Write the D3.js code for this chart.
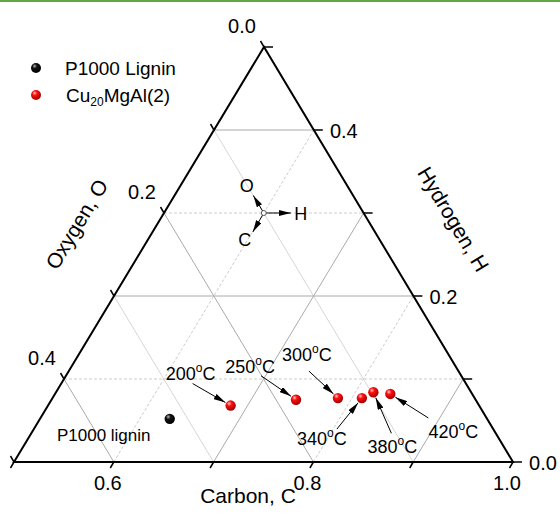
<!DOCTYPE html>
<html>
<head>
<meta charset="utf-8">
<script src="https://cdn.jsdelivr.net/npm/d3@7"></script>
<style>
  body { margin: 0; background: #fff; }
  svg { display: block; font-family: "Liberation Sans", Arial, sans-serif; }
</style>
</head>
<body>
<svg id="chart" width="560" height="515"></svg>
<script>
// data: composition (mass fraction) of carbon, hydrogen, oxygen
var sampleNames = ["P1000 lignin", "200", "250", "300", "340", "380", "420"];
var sampleGroup = ["lignin", "cat", "cat", "cat", "cat", "cat", "cat"];
var carbon   = [0.630, 0.683, 0.745, 0.786, 0.810, 0.818, 0.836];
var hydrogen = [0.052, 0.068, 0.075, 0.077, 0.077, 0.084, 0.082];
var oxygen   = [0.318, 0.249, 0.180, 0.137, 0.113, 0.098, 0.082];

var gridSteps = [0.1, 0.2, 0.3, 0.4];
var cTickLabels = [0.6, 0.8, 1.0];
var hTickLabels = [0.0, 0.2, 0.4];
var oTickLabels = [0.0, 0.2, 0.4];

// annotation layout (label centre and arrow start, relative to the point)
var labelOffsets = [[-66, 16, null, null], [-40, -32, -38, -22], [-46, -33, -35, -24], [-31, -43, -29, -27],
                    [-40, 41, -25, 31], [19, 55, 18, 41], [63, 38, 38, 24]];

var svg = d3.select("#chart");

// green rule on top
svg.append("rect").attr("x", 0).attr("y", 0).attr("width", 560).attr("height", 2).attr("fill", "#62a744");

// ternary scales: C on the bottom, H vertical
var cx = d3.scaleLinear().domain([0.5, 1]).range([14, 513]);
var hy = d3.scaleLinear().domain([0, 0.5]).range([462, 47]);
var hx = d3.scaleLinear().domain([0, 0.5]).range([0, 250]);

function project(c, h) {
	return [cx(c) + hx(h), hy(h)];
}

var defs = svg.append("defs");
defs.append("marker")
	.attr("id", "arrow")
	.attr("markerUnits", "userSpaceOnUse")
	.attr("viewBox", "0 0 12 6")
	.attr("refX", 12).attr("refY", 3)
	.attr("markerWidth", 12).attr("markerHeight", 6)
	.attr("orient", "auto")
	.append("path").attr("d", "M0,0 L12,3 L0,6 Z").attr("fill", "#000");

function ball(id, light, mid, dark) {
	var g = defs.append("radialGradient").attr("id", id)
		.attr("cx", "0.4").attr("cy", "0.35").attr("r", "0.65").attr("fx", "0.35").attr("fy", "0.3");
	g.append("stop").attr("offset", "0%").attr("stop-color", light);
	g.append("stop").attr("offset", "35%").attr("stop-color", mid);
	g.append("stop").attr("offset", "100%").attr("stop-color", dark);
}
ball("ballRed", "#ffd0d0", "#ff1010", "#a00000");
ball("ballBlack", "#bbbbbb", "#111111", "#000000");

var grid = svg.append("g");

// grid lines
gridSteps.forEach(function (s) {
	var major = Math.round(s * 10) % 2 == 0;
	// constant H (horizontal)
	var a = project(0.5, s), b = project(1 - s, s);
	grid.append("line").attr("x1", a[0]).attr("y1", a[1]).attr("x2", b[0]).attr("y2", b[1])
		.attr("stroke", major ? "#aaaaaa" : "#cccccc")
		.attr("stroke-dasharray", major ? null : "3,2");
	// constant C
	var c = 0.5 + s;
	a = project(c, 0); b = project(c, 1 - c);
	grid.append("line").attr("x1", a[0]).attr("y1", a[1]).attr("x2", b[0]).attr("y2", b[1])
		.attr("stroke", major ? "#aaaaaa" : "#cccccc")
		.attr("stroke-dasharray", major ? null : "3,2");
	// constant O
	a = project(0.5, 0.5 - s); b = project(1 - s, 0);
	grid.append("line").attr("x1", a[0]).attr("y1", a[1]).attr("x2", b[0]).attr("y2", b[1])
		.attr("stroke", major ? "#aaaaaa" : "#d6d6d6");
});

// axes (triangle)
var T = project(0.5, 0.5), BL = project(0.5, 0), BR = project(1, 0);
svg.append("path")
	.attr("d", "M" + BL + "L" + BR + "L" + T + "Z")
	.attr("fill", "none").attr("stroke", "#000").attr("stroke-width", 2);

var ticks = d3.range(0, 6).map(function (i) { return i / 10; });
var axes = svg.append("g").attr("stroke", "#000").attr("stroke-width", 1.5);
var fmt = d3.format(".1f");

ticks.forEach(function (t) {
	// bottom (C)
	var p = project(0.5 + t, 0);
	axes.append("line").attr("x1", p[0]).attr("y1", p[1]).attr("x2", p[0] - 3.5).attr("y2", p[1] + 6);
	// right (H)
	p = project(1 - t, t);
	axes.append("line").attr("x1", p[0]).attr("y1", p[1]).attr("x2", p[0] + 9).attr("y2", p[1]);
	// left (O)
	p = project(0.5, 0.5 - t);
	axes.append("line").attr("x1", p[0]).attr("y1", p[1]).attr("x2", p[0] - 3.5).attr("y2", p[1] - 6);
});

var tickText = svg.append("g").attr("font-size", 20).attr("fill", "#000").attr("text-anchor", "middle");
cTickLabels.forEach(function (v) {
	var p = project(v, 0);
	tickText.append("text").attr("x", p[0] - 6).attr("y", p[1] + 28).text(fmt(v));
});
hTickLabels.forEach(function (v) {
	var p = project(1 - v, v);
	tickText.append("text").attr("x", p[0] + 30).attr("y", p[1] + 8).text(fmt(v));
});
oTickLabels.forEach(function (v) {
	var p = project(0.5, 0.5 - v);
	tickText.append("text").attr("x", p[0] - 22).attr("y", p[1] - 14).text(fmt(v));
});

// axis titles
svg.append("text").attr("x", 248).attr("y", 503).attr("font-size", 21).attr("text-anchor", "middle").text("Carbon, C");
svg.append("text").attr("transform", "translate(83,228) rotate(-59)").attr("font-size", 21).attr("text-anchor", "middle").text("Oxygen, O");
svg.append("text").attr("transform", "translate(447,223) rotate(59)").attr("font-size", 21).attr("text-anchor", "middle").text("Hydrogen, H");

// direction indicator
var ctr = project(0.6, 0.3);
var dirs = [
	{ lab: "O", v: [-10.5, -17.5], t: [-17, -21] },
	{ lab: "H", v: [27, 0], t: [37, 7] },
	{ lab: "C", v: [-11, 19], t: [-19, 33] }
];
var ind = svg.append("g");
dirs.forEach(function (d) {
	ind.append("line").attr("x1", ctr[0]).attr("y1", ctr[1])
		.attr("x2", ctr[0] + d.v[0]).attr("y2", ctr[1] + d.v[1])
		.attr("stroke", "#000").attr("stroke-width", 1).attr("marker-end", "url(#arrow)");
	ind.append("text").attr("x", ctr[0] + d.t[0]).attr("y", ctr[1] + d.t[1])
		.attr("font-size", 18).attr("text-anchor", "middle").text(d.lab);
});
ind.append("circle").attr("cx", ctr[0]).attr("cy", ctr[1]).attr("r", 2.5)
	.attr("fill", "#fff").attr("stroke", "#555").attr("stroke-width", 1);

// points and annotations
var samples = sampleNames.map(function (n, i) {
	return { name: n, group: sampleGroup[i], c: carbon[i], h: hydrogen[i], o: oxygen[i], off: labelOffsets[i] };
});

var ann = svg.append("g");
samples.forEach(function (d) {
	var p = project(d.c, d.h);
	var lx = p[0] + d.off[0], ly = p[1] + d.off[1];
	if (d.group == "lignin") {
		ann.append("text").attr("x", lx).attr("y", ly + 6).attr("font-size", 17)
			.attr("text-anchor", "middle").text(d.name);
		return;
	}
	var t = ann.append("text").attr("x", lx).attr("y", ly + 6).attr("font-size", 18).attr("text-anchor", "middle");
	t.append("tspan").text(d.name);
	t.append("tspan").attr("font-size", 12).attr("dy", -8).text("o");
	t.append("tspan").attr("dy", 8).text("C");
	var sx = p[0] + d.off[2], sy = p[1] + d.off[3];
	var dx = p[0] - sx, dy = p[1] - sy, len = Math.sqrt(dx * dx + dy * dy);
	var k = (len - 6) / len;
	ann.append("line").attr("x1", sx).attr("y1", sy).attr("x2", sx + dx * k).attr("y2", sy + dy * k)
		.attr("stroke", "#000").attr("stroke-width", 1).attr("marker-end", "url(#arrow)");
});

svg.append("g").selectAll("circle").data(samples).enter()
	.append("circle")
	.attr("cx", function (d) { return project(d.c, d.h)[0]; })
	.attr("cy", function (d) { return project(d.c, d.h)[1]; })
	.attr("r", 5.2)
	.attr("fill", function (d) { return d.group == "lignin" ? "url(#ballBlack)" : "url(#ballRed)"; });

// legend
var legend = svg.append("g");
legend.append("circle").attr("cx", 36).attr("cy", 68).attr("r", 5).attr("fill", "url(#ballBlack)");
legend.append("circle").attr("cx", 36).attr("cy", 95).attr("r", 5).attr("fill", "url(#ballRed)");
legend.append("text").attr("x", 65).attr("y", 75).attr("font-size", 19).text("P1000 Lignin");
var lt = legend.append("text").attr("x", 66).attr("y", 102).attr("font-size", 19);
lt.append("tspan").text("Cu");
lt.append("tspan").attr("font-size", 12).attr("dy", 4).text("20");
lt.append("tspan").attr("dy", -4).text("MgAl(2)");
</script>
</body>
</html>
